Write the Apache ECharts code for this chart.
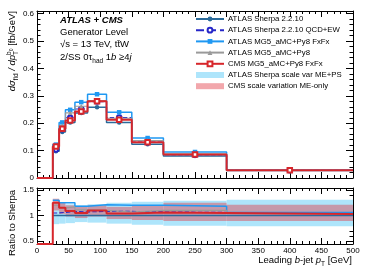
<!DOCTYPE html>
<html><head><meta charset="utf-8">
<script src="https://cdn.jsdelivr.net/npm/echarts@6/dist/echarts.min.js"></script>
<style>html,body{margin:0;padding:0;background:#fff}#c{width:374px;height:268px}</style>
</head><body><div id="c"></div>
<script>
// ---- data (bin edges in GeV; first bin 0-25 is the empty underflow region) ----
const binEdges = [0, 25, 35, 45, 60, 80, 110, 150, 200, 300, 500];
const xTicks = [0, 50, 100, 150, 200, 250, 300, 350, 400, 450, 500];
const mainYTicks = [0, 0.1, 0.2, 0.3, 0.4, 0.5, 0.6];
const ratioYTicks = [0.5, 1, 1.5];

const sherpa   = [0, 0.098, 0.168, 0.203, 0.237, 0.258, 0.203, 0.123, 0.080, 0.027];
const qcdEw    = [0, 0.104, 0.178, 0.220, 0.252, 0.279, 0.221, 0.131, 0.085, 0.028];
const mgFxfx   = [0, 0.122, 0.203, 0.249, 0.277, 0.306, 0.240, 0.146, 0.095, 0.029];
const mgPy8    = [0, 0.115, 0.192, 0.238, 0.262, 0.283, 0.218, 0.137, 0.088, 0.028];
const cmsFxfx  = [0, 0.115, 0.180, 0.210, 0.243, 0.280, 0.213, 0.131, 0.086, 0.028];

const rSherpa  = [null, 1, 1, 1, 1, 1, 1, 1, 1, 1];
const rQcdEw   = [null, 1.05, 1.06, 1.08, 1.07, 1.08, 1.08, 1.07, 1.06, 1.04];
const rMgFxfx  = [null, 1.30, 1.25, 1.25, 1.18, 1.21, 1.20, 1.20, 1.18, 1.06];
const rMgPy8   = [null, 1.20, 1.15, 1.17, 1.11, 1.10, 1.07, 1.10, 1.10, 1.04];
const rCms     = [0.44, 1.25, 1.15, 1.09, 1.05, 1.10, 1.04, 1.06, 1.05, 1.03];

const sherpaBandLo = [null, 0.83, 0.84, 0.85, 0.87, 0.86, 0.84, 0.82, 0.80, 0.79];
const sherpaBandHi = [null, 1.27, 1.24, 1.22, 1.20, 1.22, 1.25, 1.27, 1.29, 1.31];
const cmsBandLo    = [null, 1.10, 1.03, 0.98, 0.95, 0.98, 0.93, 0.91, 0.89, 0.89];
const cmsBandHi    = [null, 1.33, 1.26, 1.20, 1.17, 1.20, 1.17, 1.20, 1.25, 1.21];

const names = ['ATLAS Sherpa 2.2.10', 'ATLAS Sherpa 2.2.10 QCD+EW', 'ATLAS MG5_aMC+Py8 FxFx',
  'ATLAS MG5_aMC+Py8', 'CMS MG5_aMC+Py8 FxFx', 'ATLAS Sherpa scale var ME+PS', 'CMS scale variation ME-only'];

// ---- helpers ----
const FONT = '"Liberation Sans", Arial, sans-serif';
function stepData(vals, withMarker) {
  const d = [];
  for (let i = 0; i < vals.length; i++) {
    const v = vals[i]; if (v == null) continue;
    const lo = binEdges[i], hi = binEdges[i + 1];
    d.push({ value: [lo, v], symbol: 'none' });
    if (withMarker && v > 0) d.push({ value: [(lo + hi) / 2, v] });
    d.push({ value: [hi, v], symbol: 'none' });
  }
  return d;
}
function bandData(lo, hi) {
  const d = [];
  for (let i = 0; i < lo.length; i++) if (lo[i] != null) d.push([binEdges[i], binEdges[i + 1], lo[i], hi[i]]);
  return d;
}
const styles = [
  { color: '#2a6a9a', width: 1.5, type: 'solid', symbol: 'circle', size: 4.5 },
  { color: '#2626c8', width: 1.1, type: 'dashed', symbol: 'emptyCircle', size: 4.5 },
  { color: '#1f98f2', width: 1.5, type: 'solid', symbol: 'rect', size: 4.5 },
  { color: '#9a9a9a', width: 1.1, type: 'solid', symbol: 'triangle', size: 4.5 },
  { color: '#d7262b', width: 2, type: 'solid', symbol: 'emptyRect', size: 4.5 }
];
const mainVals = [sherpa, qcdEw, mgFxfx, mgPy8, cmsFxfx];
const ratioVals = [rSherpa, rQcdEw, rMgFxfx, rMgPy8, rCms];

const series = [];
mainVals.forEach((vals, k) => {
  const s = styles[k];
  series.push({ type: 'line', name: names[k], xAxisIndex: 0, yAxisIndex: 0, data: stepData(vals, true),
    symbol: s.symbol, symbolSize: s.size, showSymbol: true, clip: true, z: 3 + k,
    lineStyle: { color: s.color, width: s.width, type: s.type }, itemStyle: { color: s.color, borderWidth: 1 },
    emphasis: { disabled: true }, animation: false });
});
function band(name, lo, hi, color, z) {
  return { type: 'custom', name, xAxisIndex: 2, yAxisIndex: 2, data: bandData(lo, hi), z,
    itemStyle: { color }, encode: { x: [0, 1], y: [2, 3] }, animation: false, clip: true,
    renderItem: (p, api) => {
      const a = api.coord([api.value(0), api.value(3)]);
      const b = api.coord([api.value(1), api.value(2)]);
      return { type: 'rect', shape: { x: a[0], y: a[1], width: b[0] - a[0], height: b[1] - a[1] }, style: { fill: color } };
    } };
}
series.push(band(names[5], sherpaBandLo, sherpaBandHi, '#aee5fb', 1));
series.push(band(names[6], cmsBandLo, cmsBandHi, 'rgba(226,60,72,0.45)', 2));
ratioVals.forEach((vals, k) => {
  const s = styles[k];
  series.push({ type: 'line', name: names[k], xAxisIndex: 2, yAxisIndex: 2, data: stepData(vals, false),
    symbol: 'none', clip: true, z: 3 + k,
    lineStyle: { color: s.color, width: s.width, type: s.type },
    emphasis: { disabled: true }, animation: false });
});

function xAx(grid, pos, labels) {
  return { type: 'value', gridIndex: grid, position: pos, min: 0, max: 500, interval: 50,
    axisLine: { show: true, onZero: false, lineStyle: { color: '#000', width: 1 } },
    axisTick: { show: true, inside: true, length: 6, lineStyle: { color: '#000' } },
    minorTick: { show: true, splitNumber: 5, length: 3, lineStyle: { color: '#000' } },
    axisLabel: { show: labels, fontSize: 8, color: '#000', fontFamily: FONT, margin: 3,
      customValues: xTicks },
    splitLine: { show: false } };
}
function mainY(pos, labels) {
  return { type: 'value', gridIndex: 0, position: pos, min: 0, max: 0.61, interval: 0.1,
    axisLine: { show: true, onZero: false, lineStyle: { color: '#000' } },
    axisTick: { show: true, inside: true, length: 7, lineStyle: { color: '#000' }, customValues: mainYTicks },
    minorTick: { show: true, splitNumber: 5, length: 3.5, lineStyle: { color: '#000' } },
    axisLabel: { show: labels, fontSize: 8, color: '#000', fontFamily: FONT, margin: 3,
      customValues: mainYTicks, formatter: v => String(+(+v).toFixed(2)) },
    splitLine: { show: false } };
}
const ratioMinor = [];
for (let v = 5; v <= 15; v++) ratioMinor.push(v / 10);
function ratioY(pos, labels, minor) {
  return { type: 'value', gridIndex: 1, position: pos, min: 0.44, max: 1.54,
    axisLine: { show: !minor, onZero: false, lineStyle: { color: '#000' } },
    axisTick: { show: true, inside: true, length: minor ? 3.5 : 7, lineStyle: { color: '#000' },
      customValues: minor ? ratioMinor : ratioYTicks },
    axisLabel: { show: labels, fontSize: 8, color: '#000', fontFamily: FONT, margin: 3,
      customValues: ratioYTicks, formatter: v => String(+(+v).toFixed(2)) },
    splitLine: { show: false } };
}

// ---- text (manual layout of sub/superscripts) ----
const mctx = document.createElement('canvas').getContext('2d');
function fontOf(p) { return (p.it ? 'italic ' : '') + (p.b ? 'bold ' : '') + p.s + 'px ' + FONT; }
function runWidth(pieces) {
  let x = 0;
  pieces.forEach(p => { mctx.font = fontOf(p); const w = mctx.measureText(p.t).width; if (!p.noAdv) x += w; });
  return x;
}
function runEls(pieces, x0, yb) {
  const els = []; let x = x0;
  pieces.forEach(p => {
    mctx.font = fontOf(p);
    const w = mctx.measureText(p.t).width;
    els.push({ type: 'text', x, y: yb + (p.dy || 0), silent: true,
      style: { text: p.t, font: fontOf(p), fill: '#000', verticalAlign: 'bottom', align: 'left' } });
    if (!p.noAdv) x += w;
  });
  return els;
}
const S = 9.5, SS = 6.5;
const labelBlock = [
  { pcs: [{ t: 'ATLAS + CMS', s: S, it: true, b: true }], y: 25 },
  { pcs: [{ t: 'Generator Level', s: S }], y: 37.5 },
  { pcs: [{ t: '\u221As = 13 TeV, tt\u0304W', s: S }], y: 49.5 },
  { pcs: [{ t: '2/SS 0\u03C4', s: S }, { t: 'had', s: SS, dy: 2.5 }, { t: ' 1', s: S }, { t: 'b', s: S, it: true },
          { t: ' \u22654', s: S }, { t: 'j', s: S, it: true }], y: 62.5 }
];
const graphics = [];
labelBlock.forEach(l => graphics.push(...runEls(l.pcs, 60, l.y)));

const xTitle = [{ t: 'Leading ', s: S }, { t: 'b', s: S, it: true }, { t: '-jet ', s: S }, { t: 'p', s: S, it: true },
  { t: 'T', s: SS, dy: 2.5 }, { t: ' [GeV]', s: S }];
graphics.push(...runEls(xTitle, 352 - runWidth(xTitle), 265));

const yTitle = [{ t: 'd\u03C3', s: S, it: true }, { t: 'fid', s: SS, dy: 2.5 }, { t: ' / d', s: S, it: true },
  { t: 'p', s: S, it: true }, { t: 'T', s: SS, dy: 2.5, noAdv: true }, { t: 'b', s: SS, dy: -4.5 },
  { t: '0', s: 5, dy: -2.8 }, { t: ' [fb/GeV]', s: S }];
const yLen = runWidth(yTitle);
graphics.push({ type: 'group', x: 17, y: 11 + yLen, rotation: Math.PI / 2, children: runEls(yTitle, 0, 0) });
const rTitle = [{ t: 'Ratio to Sherpa', s: S }];
const rLen = runWidth(rTitle);
graphics.push({ type: 'group', x: 17, y: 190 + rLen, rotation: Math.PI / 2, children: runEls(rTitle, 0, 0) });

const chart = echarts.init(document.getElementById('c'), null, { renderer: 'canvas' });
chart.setOption({
  animation: false,
  backgroundColor: '#fff',
  grid: [
    { left: 37, top: 11, width: 316, height: 167 },
    { left: 37, top: 188, width: 316, height: 56 }
  ],
  xAxis: [xAx(0, 'bottom', false), xAx(0, 'top', false), xAx(1, 'bottom', true), xAx(1, 'top', false)],
  yAxis: [mainY('left', true), mainY('right', false),
    ratioY('left', true, false), ratioY('right', false, false), ratioY('left', false, true), ratioY('right', false, true)],
  legend: {
    orient: 'vertical', left: 190, top: 10, itemWidth: 28, itemHeight: 6, itemGap: 3.2,
    selectedMode: false,
    textStyle: { fontSize: 7.8, fontFamily: FONT, color: '#000', padding: [0, 0, 0, -1] },
    data: names.map((n, i) => i < 5 ? { name: n } : { name: n, icon: 'rect' })
  },
  graphic: graphics,
  series
});
</script>
</body></html>
